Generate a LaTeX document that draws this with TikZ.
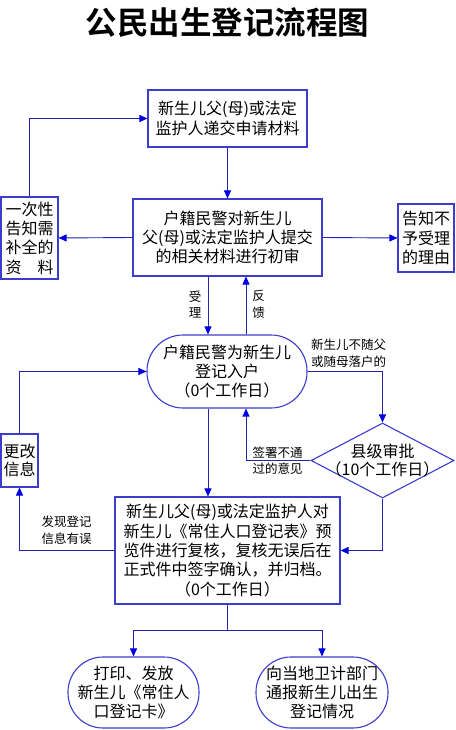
\documentclass[tikz,border=0pt]{standalone}
\usepackage{fontspec}
\setmainfont{Noto Sans CJK SC}[BoldFont={* Bold}]
\usetikzlibrary{arrows.meta,shapes.geometric}
\definecolor{boxc}{RGB}{60,60,205}
\definecolor{linec}{RGB}{35,35,175}
\definecolor{tipc}{RGB}{0,0,230}
\begin{document}
\begin{tikzpicture}[x=1pt,y=-1pt,
  box/.style={draw=boxc, line width=1.1pt, rectangle, inner sep=0pt, align=center,
    font=\fontsize{16}{19.3}\selectfont},
  stad/.style={box, rounded corners=35pt},
  plain/.style={draw=linec, line width=0.9pt},
  conn/.style={plain, -{Triangle[width=7pt,length=8pt,color=tipc]}},
  lbl/.style={font=\fontsize{12.5}{16.5}\selectfont, inner sep=0pt, align=left},
  ttl/.style={font=\fontsize{31.5}{32}\selectfont\bfseries, inner sep=0pt}]
\fill[white] (0,0) rectangle (455,730);
\useasboundingbox (0,0) rectangle (455,730);

\node[ttl] (title) at (227.5,23) {公民出生登记流程图};

\node[box, minimum width=159pt, minimum height=57pt] (B1) at (227.5,118.5)
  {新生儿父(母)或法定\\监护人递交申请材料};
\node[box, minimum width=189pt, minimum height=77pt] (B2) at (227.5,237.5)
  {户籍民警对新生儿\\父(母)或法定监护人提交\\的相关材料进行初审};
\node[box, minimum width=57pt, minimum height=82pt] (L) at (29.5,238)
  {一次性\\告知需\\补全的\\资\hspace{1em}料};
\node[box, minimum width=56pt, minimum height=68pt] (R) at (426,238)
  {告知不\\予受理\\的理由};
\node[stad, rounded corners=36pt, minimum width=160pt, minimum height=73pt] (RB) at (227,371.5)
  {户籍民警为新生儿\\登记入户\\（0个工作日）};
\node[diamond, draw=boxc, line width=1.1pt, minimum width=143pt, minimum height=75pt, inner sep=0pt] (D) at (382.5,460.5) {};
\node[align=center, inner sep=0pt, font=\fontsize{16}{18.5}\selectfont] (Dt) at (D.center) {县级审批\\（10个工作日）};
\node[box, minimum width=225pt, minimum height=107pt] (B) at (227.5,550.5)
  {新生儿父(母)或法定监护人对\\新生儿《常住人口登记表》预\\览件进行复核，复核无误后在\\正式件中签字确认，并归档。\\（0个工作日）};
\node[box, minimum width=37pt, minimum height=53pt, font=\fontsize{16}{18.5}\selectfont] (C) at (19.5,460.5)
  {更改\\信息};
\node[stad, minimum width=131pt, minimum height=71pt] (O1) at (133.5,692.5)
  {打印、发放\\新生儿《常住人\\口登记卡》};
\node[stad, minimum width=132pt, minimum height=71pt] (O2) at (322,692.5)
  {向当地卫计部门\\通报新生儿出生\\登记情况};

\coordinate (xa) at (208,0);
\coordinate (xf) at (246,0);
\coordinate (J) at (227.5,630);

\draw[conn] (B1) -- (B2);
\draw[conn] (B2.west) -- (L.east);
\draw[conn] (B2.east) -- (R.west);
\draw[conn] (L.north) |- (B1.west);
\draw[conn] (B2.south -| xa) -- (RB.north -| xa);
\draw[conn] (RB.north -| xf) -- (B2.south -| xf);
\draw[conn] (RB.east) -| (D.north);
\draw[conn] (D.west) -| (RB.south -| xf);
\draw[conn] (RB.south -| xa) -- (B.north -| xa);
\draw[conn] (D.south) |- (B.east);
\draw[conn] (B.west) -| (C.south);
\draw[conn] (C.north) |- (RB.west);
\draw[plain] (B.south) -- (J);
\draw[conn] (J) -| (O1.north);
\draw[conn] (J) -| (O2.north);

\node[lbl, align=center] (l1) at (195,304.5) {受\\理};
\node[lbl, align=center] (l2) at (258.5,304.5) {反\\馈};
\node[lbl, anchor=west] (l3) at (311,353.5) {新生儿不随父\\或随母落户的};
\node[lbl, anchor=west] (l4) at (252.5,460.5) {签署不通\\过的意见};
\node[lbl, anchor=west] (l5) at (41.5,530) {发现登记\\信息有误};
\end{tikzpicture}
\end{document}
